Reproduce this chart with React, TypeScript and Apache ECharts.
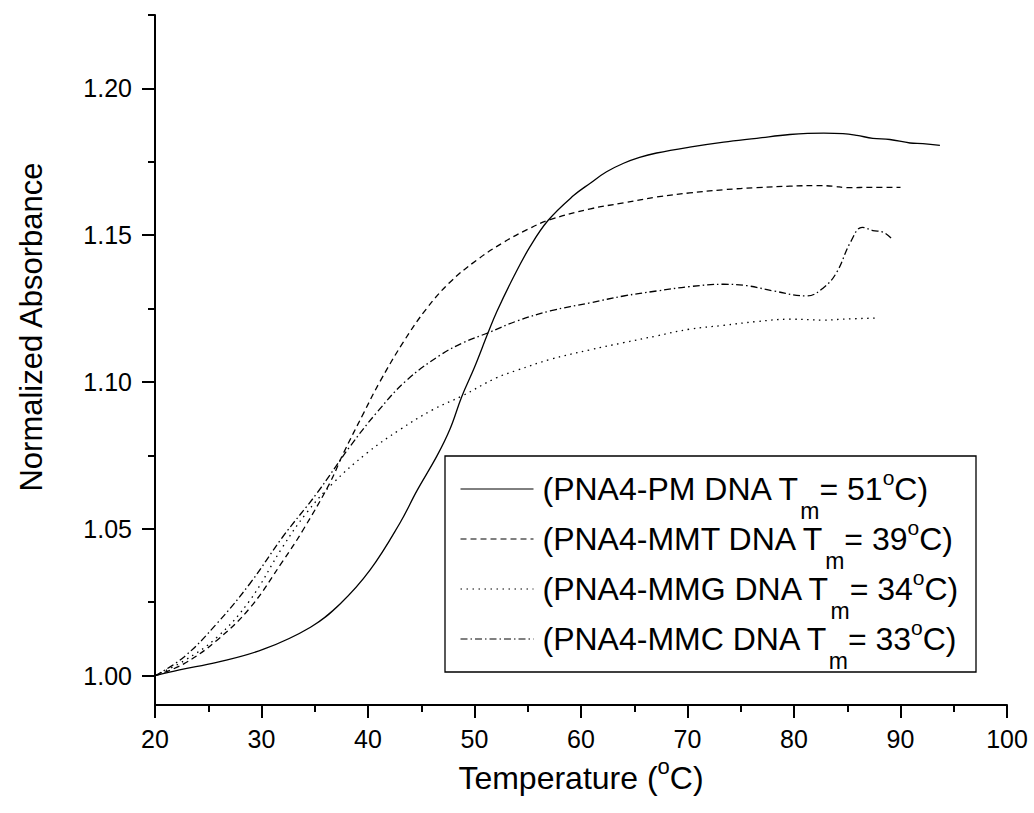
import React, { useEffect, useRef } from "react";
import * as echarts from "echarts";

// Temperature (°C) and normalized absorbance readings, per series
const pmT = [20, 22.3, 25.8, 30.2, 34.6, 37.4, 40.2, 43.0, 44.6, 46.5, 47.7, 48.8, 50.0, 51.3, 52.1, 53.7, 55.2, 56.9, 59.3, 60.9, 62.4, 64.0, 65.5, 67.1, 70.2, 73.4, 76.5, 79.6, 82.8, 84.6, 85.9, 87.4, 89.0, 90.9, 92.1, 93.7];
const pmA = [1.0, 1.002, 1.0045, 1.009, 1.0165, 1.0245, 1.036, 1.052, 1.063, 1.075, 1.084, 1.095, 1.105, 1.117, 1.124, 1.136, 1.146, 1.155, 1.1635, 1.1678, 1.1716, 1.1745, 1.1765, 1.178, 1.18, 1.1817, 1.183, 1.1843, 1.1848, 1.1846, 1.184, 1.183, 1.1826, 1.1814, 1.1812, 1.1806];

const mmtT = [20, 22.7, 25.8, 28.9, 32.0, 33.9, 36.4, 37.7, 39.6, 41.1, 43.3, 45.5, 47.7, 50.2, 52.7, 55.0, 57.1, 60.9, 64.0, 67.1, 70.2, 73.4, 76.5, 79.6, 82.1, 83.7, 84.9, 87.4, 90.0];
const mmtA = [1.0, 1.004, 1.012, 1.023, 1.039, 1.0496, 1.0655, 1.0758, 1.0895, 1.1, 1.1135, 1.125, 1.134, 1.1415, 1.1475, 1.152, 1.1553, 1.159, 1.161, 1.163, 1.1644, 1.1655, 1.1662, 1.1667, 1.1669, 1.1667, 1.1662, 1.1663, 1.1663];

const mmgT = [20, 22.7, 25.8, 28.9, 32.0, 34.2, 36.7, 39.9, 43.0, 46.1, 48.8, 52.1, 54.0, 57.1, 60.9, 64.0, 67.1, 70.2, 73.4, 76.5, 79.6, 82.8, 84.6, 87.7];
const mmgA = [1.0, 1.005, 1.013, 1.0256, 1.0439, 1.0553, 1.0655, 1.0758, 1.0838, 1.0906, 1.0952, 1.1015, 1.104, 1.1077, 1.111, 1.1134, 1.1157, 1.118, 1.1193, 1.1206, 1.1214, 1.1211, 1.1214, 1.1218];

const mmcT = [20, 22.7, 25.8, 28.9, 32.0, 35.2, 38.3, 40.8, 43.6, 46.8, 49.0, 51.3, 54.0, 57.1, 60.9, 64.0, 67.1, 70.2, 73.4, 75.6, 78.1, 81.2, 82.8, 84.0, 85.3, 86.4, 87.4, 88.4, 89.2];
const mmcA = [1.0, 1.0063, 1.0177, 1.0313, 1.0473, 1.0621, 1.078, 1.0895, 1.1005, 1.1092, 1.1135, 1.1168, 1.1208, 1.1242, 1.127, 1.1293, 1.131, 1.1325, 1.1333, 1.1328, 1.131, 1.1293, 1.1322, 1.1373, 1.1476, 1.1527, 1.1516, 1.151, 1.1487];

const seriesNames = [
  "(PNA4-PM DNA Tm= 51°C)",
  "(PNA4-MMT DNA Tm= 39°C)",
  "(PNA4-MMG DNA Tm= 34°C)",
  "(PNA4-MMC DNA Tm= 33°C)",
];
const legendRich = [
  "(PNA4-PM DNA T{sub|m}= 51{sup|o}C)",
  "(PNA4-MMT DNA T{sub|m}= 39{sup|o}C)",
  "(PNA4-MMG DNA T{sub|m}= 34{sup|o}C)",
  "(PNA4-MMC DNA T{sub|m}= 33{sup|o}C)",
];

const xTicks = [20, 30, 40, 50, 60, 70, 80, 90, 100];
const yMajor = [1.0, 1.05, 1.1, 1.15, 1.2];
const yMinor = [1.025, 1.075, 1.125, 1.175, 1.225];

const xName = "Temperature ({sup|o}C)";
const yName = "Normalized Absorbance";

const FONT = 'Arial, "Liberation Sans", sans-serif';

function pairs(t: number[], a: number[]) {
  return t.map((v, i) => [v, a[i]]);
}

export default function App() {
  const ref = useRef<HTMLDivElement>(null);
  useEffect(() => {
    if (!ref.current) return;
    const chart = echarts.init(ref.current, null, { renderer: "svg" });
    const dashes: any[] = ["solid", [6, 4], [1.5, 4.5], [7, 3, 1.5, 3]];
    const datas = [pairs(pmT, pmA), pairs(mmtT, mmtA), pairs(mmgT, mmgA), pairs(mmcT, mmcA)];
    chart.setOption({
      animation: false,
      backgroundColor: "#fff",
      grid: { left: 155, right: 27, top: 15, bottom: 108, containLabel: false },
      xAxis: {
        type: "value",
        min: xTicks[0],
        max: xTicks[xTicks.length - 1],
        interval: 10,
        name: xName,
        nameLocation: "middle",
        nameGap: 50,
        nameTextStyle: {
          fontFamily: FONT,
          fontSize: 32,
          color: "#000",
          lineHeight: 44,
          rich: { sup: { fontSize: 22, verticalAlign: "top", fontFamily: FONT, color: "#000" } },
        },
        axisLine: { lineStyle: { color: "#000", width: 2 } },
        axisTick: { length: 13, inside: false, lineStyle: { color: "#000", width: 2 } },
        minorTick: { show: true, splitNumber: 2, length: 7, lineStyle: { color: "#000", width: 2 } },
        axisLabel: { fontFamily: FONT, fontSize: 25, color: "#000", margin: 21 },
        splitLine: { show: false },
        minorSplitLine: { show: false },
      },
      yAxis: [
        {
          type: "value",
          min: 0.99,
          max: 1.225,
          name: yName,
          nameLocation: "middle",
          nameRotate: 90,
          nameGap: 108,
          nameTextStyle: { fontFamily: FONT, fontSize: 31, color: "#000", padding: [0, 0, 0, 66] },
          axisLine: { show: true, lineStyle: { color: "#000", width: 2 } },
          axisTick: { show: true, customValues: yMajor, length: 13, lineStyle: { color: "#000", width: 2 } },
          axisLabel: {
            customValues: yMajor,
            formatter: (v: number) => v.toFixed(2),
            fontFamily: FONT,
            fontSize: 25,
            color: "#000",
            margin: 23,
          },
          splitLine: { show: false },
        },
        {
          type: "value",
          min: 0.99,
          max: 1.225,
          position: "left",
          axisLine: { show: false },
          axisTick: { show: true, customValues: yMinor, length: 7, lineStyle: { color: "#000", width: 2 } },
          axisLabel: { show: false },
          splitLine: { show: false },
        },
      ],
      legend: {
        orient: "vertical",
        left: 460,
        top: 456,
        padding: 0,
        itemGap: -16,
        itemWidth: 73,
        itemHeight: 14,
        selectedMode: false,
        data: seriesNames,
        formatter: (name: string) => legendRich[seriesNames.indexOf(name)],
        itemStyle: { opacity: 0, borderWidth: 0 },
        lineStyle: { width: 1, opacity: 1 },
        textStyle: {
          fontFamily: FONT,
          fontSize: 32,
          color: "#000",
          lineHeight: 66,
          padding: [0, 0, 0, 4],
          rich: {
            sub: { fontFamily: FONT, fontSize: 23, verticalAlign: "bottom", color: "#000" },
            sup: { fontFamily: FONT, fontSize: 21, verticalAlign: "top", padding: [11, 0, 0, 0], color: "#000" },
          },
        },
      },
      graphic: [
        {
          type: "rect",
          shape: { x: 445, y: 456, width: 531, height: 216 },
          style: { fill: "none", stroke: "#000", lineWidth: 1.3 },
          silent: true,
        },
      ],
      series: seriesNames.map((name, i) => ({
        name,
        type: "line",
        data: datas[i],
        showSymbol: false,
        symbol: "none",
        smooth: 0.4,
        color: "#000",
        lineStyle: { color: "#000", width: 1.3, type: dashes[i] },
      })),
    });
    return () => chart.dispose();
  }, []);
  return <div ref={ref} style={{ position: "absolute", left: 0, top: 0, width: 1034, height: 813 }} />;
}
